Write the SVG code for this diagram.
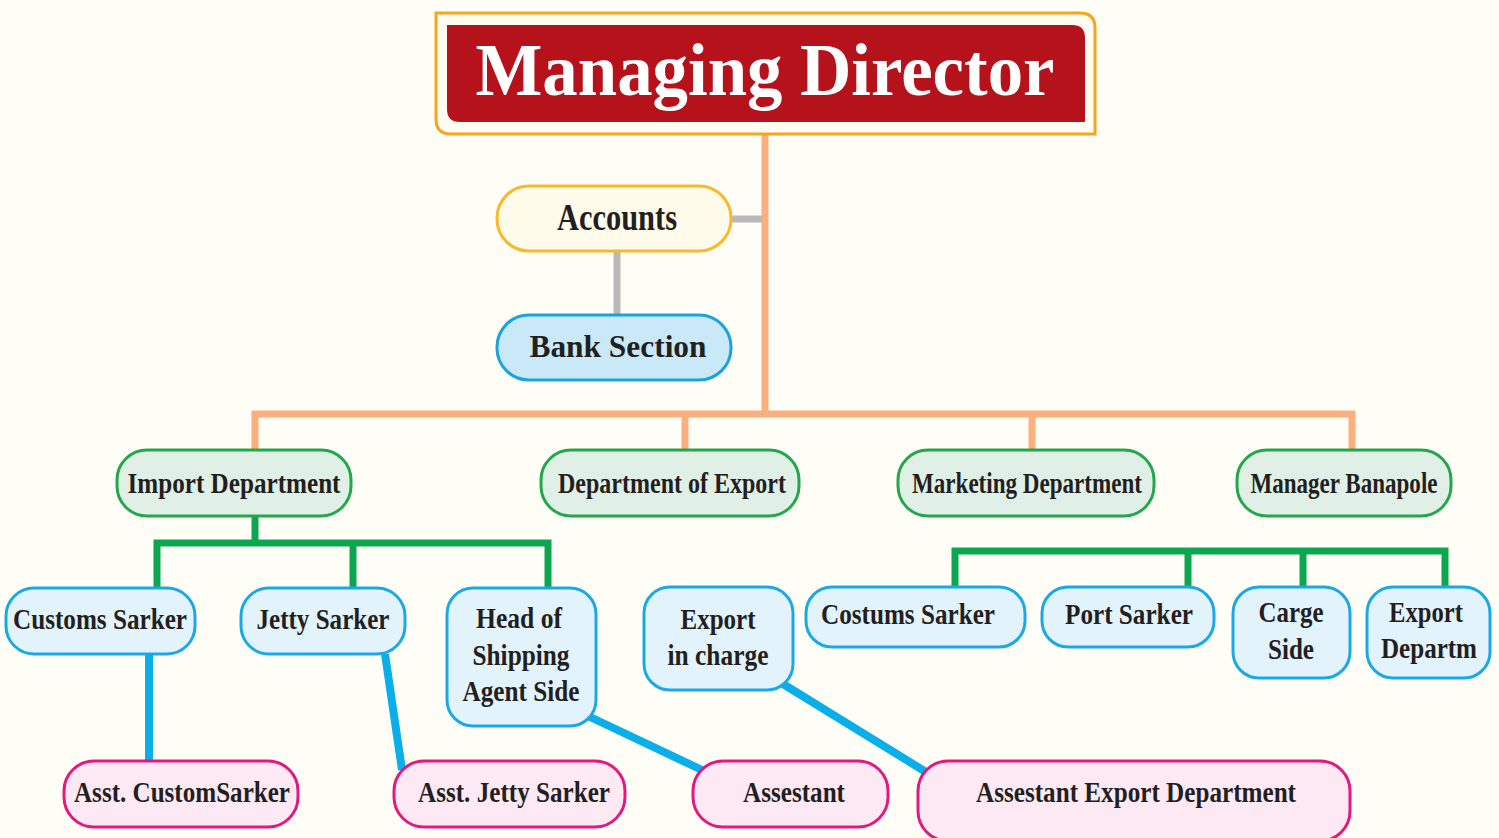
<svg xmlns="http://www.w3.org/2000/svg" width="1499" height="838" viewBox="0 0 1499 838">
<style>
text{font-family:"Liberation Serif","Times New Roman",serif;font-weight:bold;fill:#231f20;text-anchor:middle;font-size:29px}
.l2 rect{fill:#e1f0e7;stroke:#22a84a;stroke-width:3}
.l3 rect{fill:#e2f3fc;stroke:#1aa9e6;stroke-width:3}
.l4 rect{fill:#fde9f4;stroke:#e5197d;stroke-width:3}
.or{stroke:#f9b07e;stroke-width:7;fill:none}
.gr{stroke:#b9b9b9;stroke-width:7;fill:none}
.gn{stroke:#0ca650;stroke-width:7;fill:none}
.bl{stroke:#0aaee8;stroke-width:8;fill:none}
</style>
<rect x="0" y="0" width="1499" height="838" fill="#fffef6"/>
<g id="connectors">
<path class="or" d="M765,134 V414 M255,450 V414 H1352 V450 M685,414 V450 M1032,414 V450"/>
<path class="gr" d="M731,219 H762 M617,251 V315"/>
<path class="gn" d="M255,516 V543 M157,588 V543 H548 V588 M353,543 V588"/>
<path class="gn" d="M955,588 V551 H1445 V586 M1188,551 V587 M1303,551 V587"/>
<path class="bl" d="M149,654 V761 M385,654 L402,770 M588,716 L702,770 M783,684 L926,772"/>
</g>
<g id="md">
<path d="M436,13 H1080 Q1095,13 1095,28 V134 H451 Q436,134 436,119 Z" fill="#fffdf2" stroke="#f8a51e" stroke-width="3"/>
<path d="M447,25 H1072 Q1085,25 1085,38 V122 H460 Q447,122 447,109 Z" fill="#b5121b"/>
<text x="765" y="95" style="font-size:74px;fill:#ffffff" textLength="579" lengthAdjust="spacingAndGlyphs">Managing Director</text>
</g>
<g id="accounts">
<rect x="497" y="186" width="234" height="65" rx="32" fill="#fffbea" stroke="#f8b92b" stroke-width="3"/>
<text x="617" y="230" style="font-size:37px" textLength="120" lengthAdjust="spacingAndGlyphs">Accounts</text>
</g>
<g id="bank">
<rect x="497" y="315" width="234" height="65" rx="32" fill="#c9e9f9" stroke="#1aa3e0" stroke-width="3"/>
<text x="618" y="357" style="font-size:32px" textLength="177" lengthAdjust="spacingAndGlyphs">Bank Section</text>
</g>
<g id="import" class="l2">
<rect x="117" y="450" width="234" height="66" rx="30"/>
<text x="234" y="493" textLength="213" lengthAdjust="spacingAndGlyphs">Import Department</text>
</g>
<g id="export" class="l2">
<rect x="541" y="450" width="258" height="66" rx="30"/>
<text x="672" y="493" textLength="228" lengthAdjust="spacingAndGlyphs">Department of Export</text>
</g>
<g id="marketing" class="l2">
<rect x="898" y="450" width="256" height="66" rx="30"/>
<text x="1027" y="493" textLength="230" lengthAdjust="spacingAndGlyphs">Marketing Department</text>
</g>
<g id="banapole" class="l2">
<rect x="1237" y="450" width="214" height="66" rx="30"/>
<text x="1344" y="493" textLength="187" lengthAdjust="spacingAndGlyphs">Manager Banapole</text>
</g>
<g id="customs" class="l3">
<rect x="6" y="588" width="189" height="66" rx="28"/>
<text x="100" y="629" textLength="174" lengthAdjust="spacingAndGlyphs">Customs Sarker</text>
</g>
<g id="jetty" class="l3">
<rect x="241" y="588" width="164" height="66" rx="28"/>
<text x="323" y="629" textLength="133" lengthAdjust="spacingAndGlyphs">Jetty Sarker</text>
</g>
<g id="shipping" class="l3">
<rect x="447" y="588" width="149" height="138" rx="26"/>
<text x="519" y="628" textLength="86" lengthAdjust="spacingAndGlyphs">Head of</text>
<text x="521" y="665" textLength="97" lengthAdjust="spacingAndGlyphs">Shipping</text>
<text x="521" y="701" textLength="117" lengthAdjust="spacingAndGlyphs">Agent Side</text>
</g>
<g id="exportcharge" class="l3">
<rect x="644" y="587" width="149" height="103" rx="26"/>
<text x="718" y="629" textLength="75" lengthAdjust="spacingAndGlyphs">Export</text>
<text x="718" y="665" textLength="101" lengthAdjust="spacingAndGlyphs">in charge</text>
</g>
<g id="costums" class="l3">
<rect x="806" y="587" width="219" height="60" rx="26"/>
<text x="908" y="624" textLength="174" lengthAdjust="spacingAndGlyphs">Costums Sarker</text>
</g>
<g id="port" class="l3">
<rect x="1042" y="587" width="172" height="60" rx="26"/>
<text x="1129" y="624" textLength="128" lengthAdjust="spacingAndGlyphs">Port Sarker</text>
</g>
<g id="carge" class="l3">
<rect x="1233" y="587" width="117" height="91" rx="26"/>
<text x="1291" y="622" textLength="65" lengthAdjust="spacingAndGlyphs">Carge</text>
<text x="1291" y="659" textLength="46" lengthAdjust="spacingAndGlyphs">Side</text>
</g>
<g id="exportdept" class="l3">
<rect x="1367" y="587" width="123" height="91" rx="26"/>
<text x="1426" y="622" textLength="74" lengthAdjust="spacingAndGlyphs">Export</text>
<text x="1429" y="658" textLength="96" lengthAdjust="spacingAndGlyphs">Departm</text>
</g>
<g id="asstcustom" class="l4">
<rect x="64" y="761" width="234" height="66" rx="30"/>
<text x="182" y="802" textLength="216" lengthAdjust="spacingAndGlyphs">Asst. CustomSarker</text>
</g>
<g id="asstjetty" class="l4">
<rect x="394" y="761" width="231" height="66" rx="30"/>
<text x="514" y="802" textLength="192" lengthAdjust="spacingAndGlyphs">Asst. Jetty Sarker</text>
</g>
<g id="assestant" class="l4">
<rect x="693" y="761" width="195" height="66" rx="30"/>
<text x="794" y="802" textLength="102" lengthAdjust="spacingAndGlyphs">Assestant</text>
</g>
<g id="assestantexport" class="l4">
<rect x="918" y="761" width="432" height="80" rx="30"/>
<text x="1136" y="802" textLength="320" lengthAdjust="spacingAndGlyphs">Assestant Export Department</text>
</g>
</svg>
